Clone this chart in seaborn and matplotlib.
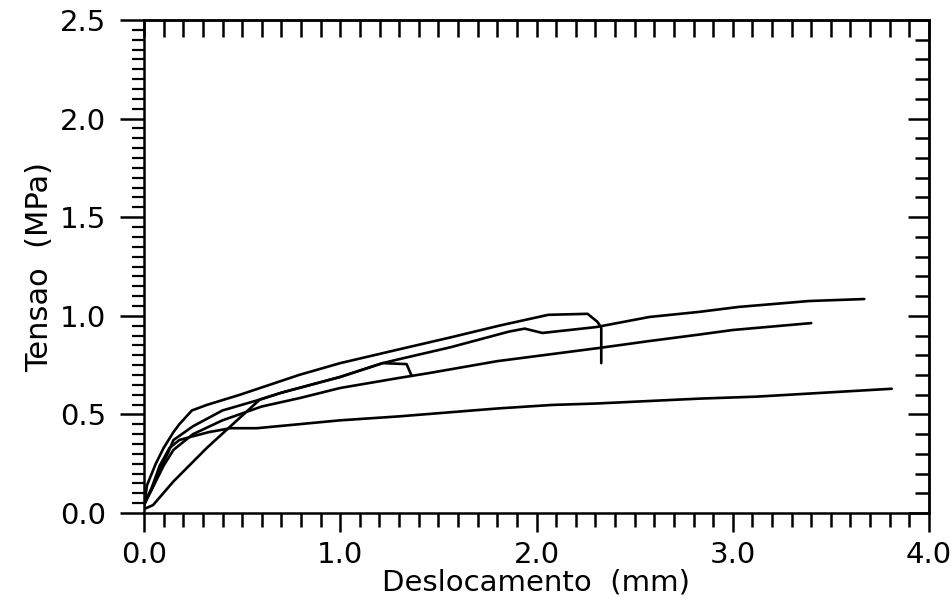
import numpy as np
import pandas as pd
import seaborn as sns
import matplotlib
matplotlib.use("Agg")
import matplotlib.pyplot as plt
from matplotlib.ticker import MultipleLocator, NullFormatter

# ---- data (displacement mm, stress MPa) ----
curve_a_x = [0.0, 0.04, 0.08, 0.12, 0.15, 0.25, 0.40, 0.59, 0.70, 1.00, 1.216, 1.30, 1.56, 1.86, 1.94, 2.03, 2.305, 2.575, 2.83, 3.03, 3.39, 3.67]
curve_a_y = [0.04, 0.12, 0.22, 0.30, 0.37, 0.44, 0.52, 0.575, 0.61, 0.69, 0.76, 0.78, 0.84, 0.92, 0.935, 0.913, 0.943, 0.994, 1.02, 1.045, 1.075, 1.085]

curve_b_x = [0.0, 0.05, 0.10, 0.15, 0.25, 0.40, 0.60, 0.794, 1.00, 1.30, 1.455, 1.80, 2.32, 2.575, 2.83, 3.00, 3.40]
curve_b_y = [0.05, 0.14, 0.24, 0.32, 0.40, 0.47, 0.54, 0.583, 0.634, 0.685, 0.71, 0.77, 0.837, 0.872, 0.905, 0.928, 0.963]

curve_c_x = [0.0, 0.04, 0.08, 0.13, 0.18, 0.234, 0.33, 0.44, 0.575, 1.00, 1.30, 1.80, 2.08, 2.30, 2.83, 3.12, 3.81]
curve_c_y = [0.04, 0.13, 0.24, 0.33, 0.37, 0.385, 0.41, 0.43, 0.43, 0.47, 0.49, 0.53, 0.548, 0.555, 0.58, 0.59, 0.63]

curve_d_x = [0.0, 0.015, 0.06, 0.10, 0.15, 0.18, 0.244, 0.32, 0.49, 0.79, 1.00, 1.30, 1.56, 1.81, 2.06, 2.26, 2.31, 2.33, 2.33]
curve_d_y = [0.03, 0.14, 0.25, 0.33, 0.41, 0.45, 0.52, 0.548, 0.60, 0.70, 0.76, 0.83, 0.89, 0.95, 1.005, 1.01, 0.97, 0.94, 0.76]

curve_e_x = [0.0, 0.046, 0.15, 0.32, 0.43, 0.59, 0.70, 1.00, 1.216, 1.338, 1.364]
curve_e_y = [0.02, 0.04, 0.16, 0.33, 0.43, 0.575, 0.61, 0.69, 0.76, 0.755, 0.695]

x_ticks = [0.0, 1.0, 2.0, 3.0, 4.0]
x_labels = ["0.0", "1.0", "2.0", "3.0", "4.0"]
y_ticks = [0.0, 0.5, 1.0, 1.5, 2.0, 2.5]
y_labels = ["0.0", "0.5", "1.0", "1.5", "2.0", "2.5"]

frames = []
for name, xs, ys in [("A", curve_a_x, curve_a_y), ("B", curve_b_x, curve_b_y),
                     ("C", curve_c_x, curve_c_y), ("D", curve_d_x, curve_d_y),
                     ("E", curve_e_x, curve_e_y)]:
    frames.append(pd.DataFrame({"curve": name, "x": xs, "y": ys, "order": range(len(xs))}))
df = pd.concat(frames, ignore_index=True)

sns.set_theme(style="white")
plt.rcParams["font.family"] = ["DejaVu Sans"]

fig = plt.figure(figsize=(9.51, 6.11), dpi=100)
ax = fig.add_axes([144 / 951, 1 - 513 / 611, (929 - 144) / 951, (513 - 20) / 611])

sns.lineplot(data=df, x="x", y="y", units="curve", estimator=None, sort=False,
             color="black", linewidth=1.9, ax=ax, legend=False)

ax.set_xlim(0, 4)
ax.set_ylim(0, 2.5)

for s in ax.spines.values():
    s.set_color("black")
    s.set_linewidth(1.8)

ax.set_xticks(x_ticks)
ax.set_xticklabels(x_labels)
ax.set_yticks(y_ticks)
ax.set_yticklabels(y_labels)
ax.xaxis.set_minor_locator(MultipleLocator(0.1))
ax.yaxis.set_minor_locator(MultipleLocator(0.05))

ax.tick_params(axis="x", which="major", direction="out", length=14, width=1.8,
               labelsize=21, pad=6, bottom=True, top=False, color="black")
ax.tick_params(axis="x", which="minor", direction="out", length=10, width=1.8,
               bottom=True, top=False, color="black")
ax.tick_params(axis="y", which="major", direction="out", length=17, width=1.8,
               labelsize=21, pad=10, left=True, right=False, color="black")
ax.tick_params(axis="y", which="minor", direction="out", length=9, width=1.6,
               left=True, right=False, color="black")

# top axis: inward ticks every 0.1
sx = ax.secondary_xaxis("top")
sx.set_xticks(np.arange(0, 4.001, 0.1))
sx.xaxis.set_major_formatter(NullFormatter())
sx.tick_params(axis="x", direction="in", length=12, width=1.8, color="black")
sx.spines["top"].set_linewidth(1.8)

# right axis: inward ticks every 0.1, longer every 0.5
sy = ax.secondary_yaxis("right")
sy.set_yticks(y_ticks)
sy.yaxis.set_major_formatter(NullFormatter())
sy.yaxis.set_minor_locator(MultipleLocator(0.1))
sy.tick_params(axis="y", which="major", direction="in", length=15, width=1.8, color="black")
sy.tick_params(axis="y", which="minor", direction="in", length=10, width=1.8, color="black")
sy.spines["right"].set_linewidth(1.8)

ax.set_xlabel("Deslocamento  (mm)", fontsize=21, labelpad=0, color="black")
ax.set_ylabel("Tensao  (MPa)", fontsize=22, labelpad=4, color="black")
for lab in ax.get_xticklabels() + ax.get_yticklabels():
    lab.set_color("black")

fig.savefig("out.png", dpi=100, facecolor="white")
